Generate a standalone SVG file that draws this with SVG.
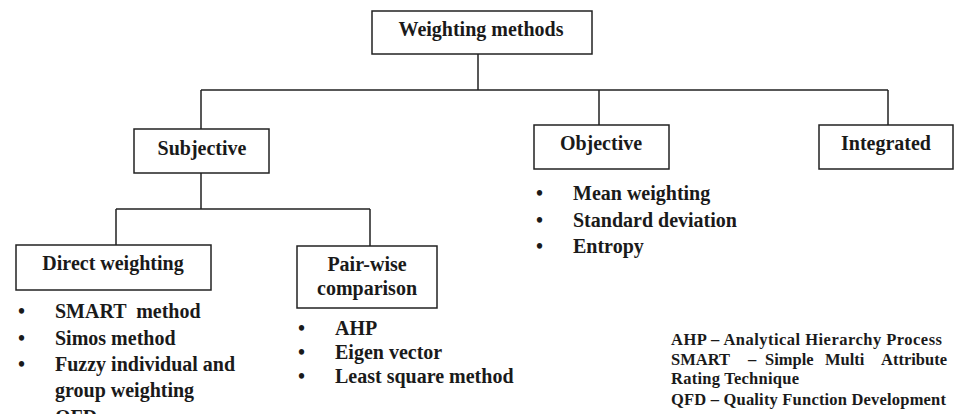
<svg xmlns="http://www.w3.org/2000/svg" width="955" height="414" viewBox="0 0 955 414">
<style>
.box{fill:#fff;stroke:#222;stroke-width:1.5}
.ln{fill:none;stroke:#222;stroke-width:1.5}
text{font-family:"Liberation Serif","Times New Roman",serif;font-weight:bold;fill:#1a1a1a}
.t{font-size:20px;text-anchor:middle}
.b{font-size:20px}
.d{font-size:20px}
.lg{font-size:16.5px}
</style>
<rect width="955" height="414" fill="#fff"/>
<g id="connectors">
<path class="ln" d="M478 54V90M201 90H888M201 90V129M599 90V125M888 90V125"/>
<path class="ln" d="M201 173V209M116 209H370M116 209V245M370 209V246"/>
</g>
<g id="weighting-methods">
<rect class="box" x="372" y="11" width="220" height="43"/>
<text class="t" x="481" y="36">Weighting methods</text>
</g>
<g id="subjective">
<rect class="box" x="134" y="129" width="135" height="44"/>
<text class="t" x="202" y="155">Subjective</text>
</g>
<g id="objective">
<rect class="box" x="534" y="125" width="135" height="44"/>
<text class="t" x="601" y="150">Objective</text>
<text class="d" x="536" y="200">•</text>
<text class="b" x="573" y="200">Mean weighting</text>
<text class="d" x="536" y="227">•</text>
<text class="b" x="573" y="227">Standard deviation</text>
<text class="d" x="536" y="253">•</text>
<text class="b" x="573" y="253">Entropy</text>
</g>
<g id="integrated">
<rect class="box" x="819" y="125" width="134" height="44"/>
<text class="t" x="886" y="150">Integrated</text>
</g>
<g id="direct-weighting">
<rect class="box" x="16" y="245" width="195" height="45"/>
<text class="t" x="113" y="270">Direct weighting</text>
<text class="d" x="18" y="318">•</text>
<text class="b" x="55" y="318" xml:space="preserve">SMART  method</text>
<text class="d" x="18" y="345">•</text>
<text class="b" x="55" y="345">Simos method</text>
<text class="d" x="18" y="371">•</text>
<text class="b" x="55" y="371">Fuzzy individual and</text>
<text class="b" x="55" y="397">group weighting</text>
<text class="b" x="55" y="424">QFD</text>
</g>
<g id="pair-wise">
<rect class="box" x="297" y="246" width="140" height="62"/>
<text class="t" x="367" y="271">Pair-wise</text>
<text class="t" x="367" y="295">comparison</text>
<text class="d" x="298" y="335">•</text>
<text class="b" x="335" y="335">AHP</text>
<text class="d" x="298" y="359">•</text>
<text class="b" x="335" y="359">Eigen vector</text>
<text class="d" x="298" y="383">•</text>
<text class="b" x="335" y="383">Least square method</text>
</g>
<g id="legend">
<text class="lg" x="671" y="345" textLength="271" lengthAdjust="spacing">AHP – Analytical Hierarchy Process</text>
<text class="lg" y="365"><tspan x="671">SMART</tspan><tspan x="748">–</tspan><tspan x="765">Simple</tspan><tspan x="825">Multi</tspan><tspan x="881">Attribute</tspan></text>
<text class="lg" x="671" y="384" textLength="128" lengthAdjust="spacing">Rating Technique</text>
<text class="lg" x="671" y="405" textLength="275" lengthAdjust="spacing">QFD – Quality Function Development</text>
</g>
</svg>
